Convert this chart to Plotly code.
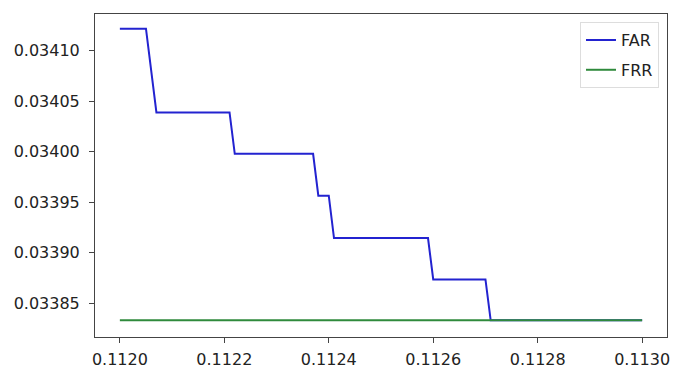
import plotly.graph_objects as go

# Threshold values (x) and error rates
far_x = [0.11200, 0.11205, 0.11207, 0.11221, 0.11222, 0.11237, 0.11238,
         0.11240, 0.11241, 0.11259, 0.11260, 0.11270, 0.11271, 0.11300]
far_y = [0.034122, 0.034122, 0.034039, 0.034039, 0.033998, 0.033998, 0.0339565,
         0.0339565, 0.0339145, 0.0339145, 0.0338735, 0.0338735, 0.033833, 0.033833]
frr_x = [0.11200, 0.11300]
frr_y = [0.033833, 0.033833]

x_ticks = [0.1120, 0.1122, 0.1124, 0.1126, 0.1128, 0.1130]
y_ticks = [0.03385, 0.03390, 0.03395, 0.03400, 0.03405, 0.03410]

fig = go.Figure()
fig.add_trace(go.Scatter(x=far_x, y=far_y, mode="lines", name="FAR", legendgroup="far",
                         line=dict(color="#2323d0", width=2)))
fig.add_trace(go.Scatter(x=frr_x, y=frr_y, mode="lines", name="FRR", legendgroup="frr",
                         line=dict(color="#2f8a3c", width=2)))

axis_common = dict(showgrid=False, zeroline=False, showline=True, mirror=True,
                   linecolor="#444", linewidth=1, ticks="outside", ticklen=5,
                   tickcolor="#444", tickfont=dict(family="DejaVu Sans", size=16, color="#222"))

fig.update_xaxes(range=[0.1119524, 0.1130476], tickvals=x_ticks,
                 ticktext=[f"{v:.4f}" for v in x_ticks], ticklabelstandoff=3,
                 **axis_common)
fig.update_yaxes(range=[0.0338165, 0.0341365], tickvals=y_ticks,
                 ticktext=[f"{v:.5f}" for v in y_ticks], ticklabelstandoff=6,
                 **axis_common)

fig.update_layout(
    width=673, height=372,
    margin=dict(l=95, r=3, t=14, b=27),
    paper_bgcolor="white", plot_bgcolor="white",
    showlegend=True,
    legend=dict(x=0.986, y=0.975, xanchor="right", yanchor="top",
                traceorder="grouped", tracegroupgap=6,
                bgcolor="white", bordercolor="#ddd", borderwidth=1,
                font=dict(family="DejaVu Sans", size=16, color="#222")),
)

fig.write_html("out.html")
